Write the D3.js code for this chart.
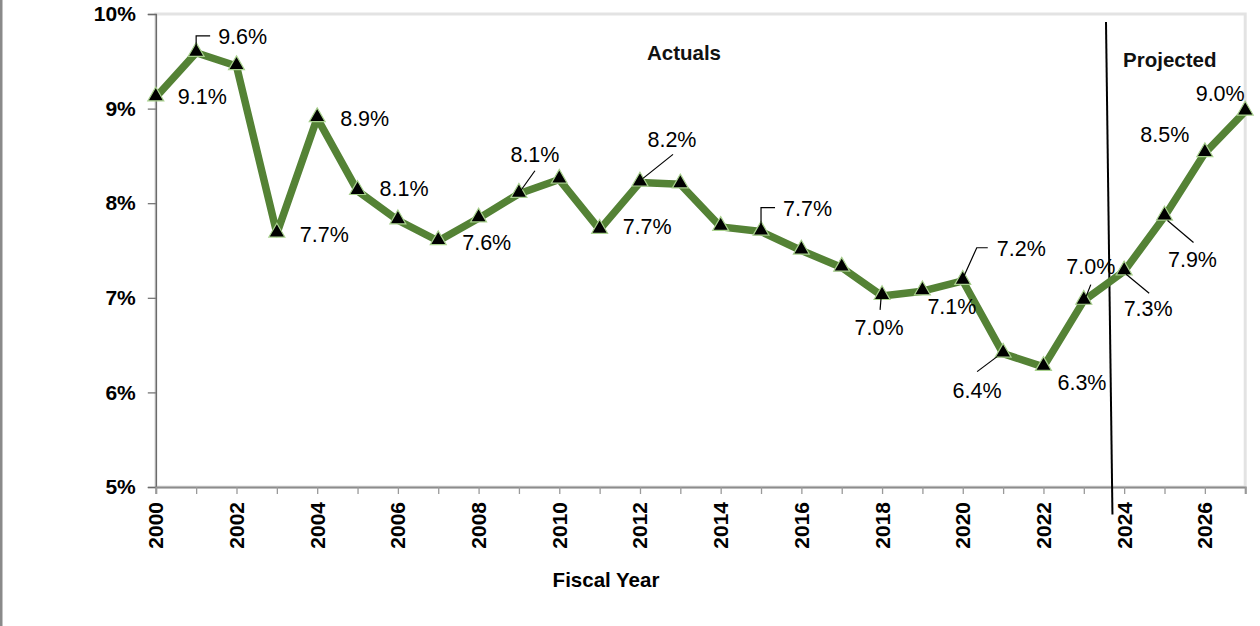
<!DOCTYPE html>
<html>
<head>
<meta charset="utf-8">
<script src="https://cdn.jsdelivr.net/npm/d3@7"></script>
<style>
  html, body { margin: 0; padding: 0; background: #fff; }
  svg { display: block; }
  text { font-family: "Liberation Sans", Arial, sans-serif; }
</style>
</head>
<body>
<svg id="chart" width="1260" height="626"></svg>
<script>
// Fiscal years and rate (%) per year
const years = d3.range(2000, 2028);
const rates = [9.12, 9.59, 9.45, 7.68, 8.9, 8.13, 7.82, 7.6, 7.84, 8.1,
               8.25, 7.72, 8.22, 8.2, 7.75, 7.7, 7.5, 7.32, 7.02, 7.07,
               7.18, 6.41, 6.27, 6.97, 7.28, 7.86, 8.53, 8.97];
const yTicks = [5, 6, 7, 8, 9, 10];
const xTickLabels = d3.range(2000, 2027, 2);
const labeledYears = [2000, 2001, 2003, 2004, 2005, 2007, 2009, 2011, 2012, 2015,
                      2018, 2019, 2020, 2021, 2022, 2023, 2024, 2025, 2026, 2027];
const sectionNames = ["Actuals", "Projected"];
const axisTitle = "Fiscal Year";

// Label placement: offset from the marker, anchor, optional leader line
const labelLayout = {
  2000: { dx: 22, dy: -1, anchor: "start" },
  2001: { dx: 22, dy: -16, anchor: "start", leader: [[0, -3], [0, -17], [14, -17]] },
  2003: { dx: 23, dy: 1, anchor: "start" },
  2004: { dx: 23, dy: 0, anchor: "start" },
  2005: { dx: 22, dy: -2, anchor: "start" },
  2007: { dx: 24, dy: 1, anchor: "start" },
  2009: { dx: 16, dy: -39, anchor: "middle", leader: [[1, -2], [16, -23]] },
  2011: { dx: 23, dy: -3, anchor: "start" },
  2012: { dx: 32, dy: -43, anchor: "middle", leader: [[3, -4], [33, -28]] },
  2015: { dx: 22, dy: -23, anchor: "start", leader: [[0, -2], [0, -24], [14, -24]] },
  2018: { dx: -3, dy: 32, anchor: "middle", leader: [[-1, 2], [-2, 14]] },
  2019: { dx: 5, dy: 15, anchor: "start" },
  2020: { dx: 34, dy: -32, anchor: "start", leader: [[0, -2], [14, -33], [25, -33]] },
  2021: { dx: -26, dy: 37, anchor: "middle", leader: [[-6, 3], [-26, 18]] },
  2022: { dx: 14, dy: 16, anchor: "start" },
  2023: { dx: 7, dy: -34, anchor: "middle", leader: [[1, -1], [7, -16]] },
  2024: { dx: 24, dy: 37, anchor: "middle", leader: [[2, 3], [25, 22]] },
  2025: { dx: 28, dy: 43, anchor: "middle", leader: [[3, 4], [29, 26]] },
  2026: { dx: -40, dy: -19, anchor: "middle" },
  2027: { dx: -25, dy: -18, anchor: "middle" }
};

const svg = d3.select("#chart");
const plot = { left: 155.8, right: 1245.2, top: 14, bottom: 487 };

const x = d3.scaleLinear().domain([2000, 2027]).range([plot.left, plot.right]);
const y = d3.scaleLinear().domain([5, 10]).range([plot.bottom, plot.top]);

// Thin frame on the left edge of the canvas
svg.append("rect").attr("x", 0).attr("y", 0).attr("width", 2.5).attr("height", 626)
  .attr("fill", "#8a8a8a");

// Plot area border
svg.append("rect")
  .attr("x", plot.left).attr("y", plot.top)
  .attr("width", plot.right - plot.left).attr("height", plot.bottom - plot.top)
  .attr("fill", "none").attr("stroke", "#e3e3e3").attr("stroke-width", 3);

// Y axis
const yAxis = svg.append("g").attr("transform", `translate(${plot.left},0)`)
  .call(d3.axisLeft(y).tickValues(yTicks).tickFormat(d => d + "%").tickSize(8).tickPadding(12));
yAxis.select(".domain").attr("stroke", "#6b6b6b").attr("stroke-width", 1.5);
yAxis.selectAll(".tick line").attr("stroke", "#6b6b6b").attr("stroke-width", 1.2);
yAxis.selectAll(".tick text").attr("font-size", 21).attr("font-weight", "bold")
  .attr("fill", "#000").attr("font-family", "'Liberation Sans', Arial, sans-serif");

// X axis: a tick every year, labels every other year
const xAxis = svg.append("g").attr("transform", `translate(0,${plot.bottom})`)
  .call(d3.axisBottom(x).tickValues(years).tickSize(7).tickFormat(""));
xAxis.select(".domain").attr("stroke", "#8c8c8c").attr("stroke-width", 2);
xAxis.selectAll(".tick line").attr("stroke", "#9a9a9a").attr("stroke-width", 1.3);

svg.append("g").selectAll("text").data(xTickLabels).join("text")
  .attr("transform", d => `translate(${x(d) + 7.5},${plot.bottom + 15}) rotate(-90)`)
  .attr("text-anchor", "end")
  .attr("font-size", 21).attr("font-weight", "bold").attr("fill", "#000")
  .text(d => d);

svg.append("text").attr("x", 606).attr("y", 587)
  .attr("text-anchor", "middle").attr("font-size", 20.5).attr("font-weight", "bold")
  .text(axisTitle);

// Actuals / projected divider
const divider = [{ year: 2023.55, value: 9.915 }, { year: 2023.71, value: 4.71 }];
svg.append("line")
  .attr("x1", x(divider[0].year)).attr("y1", y(divider[0].value))
  .attr("x2", x(divider[1].year)).attr("y2", y(divider[1].value))
  .attr("stroke", "#000").attr("stroke-width", 2);

const sectionPos = [{ year: 2013.09, value: 9.588 }, { year: 2025.13, value: 9.514 }];
svg.append("g").selectAll("text").data(sectionNames).join("text")
  .attr("x", (d, i) => x(sectionPos[i].year))
  .attr("y", (d, i) => y(sectionPos[i].value))
  .attr("dy", "0.35em")
  .attr("text-anchor", "middle")
  .attr("font-family", "'Open Sans', sans-serif")
  .attr("font-size", 20.5).attr("font-weight", "bold").attr("fill", "#111")
  .text(d => d);

// Series line
const pts = years.map((yr, i) => ({ year: yr, value: rates[i] }));
svg.append("path").datum(pts)
  .attr("fill", "none").attr("stroke", "#548235").attr("stroke-width", 7.5)
  .attr("stroke-linejoin", "round")
  .attr("d", d3.line().x(d => x(d.year)).y(d => y(d.value)));

// Triangle markers
const tri = d3.symbol().type(d3.symbolTriangle).size(110);
svg.append("g").selectAll("path").data(pts).join("path")
  .attr("transform", d => `translate(${x(d.year)},${y(d.value) - 1})`)
  .attr("d", tri)
  .attr("fill", "#000").attr("stroke", "#a9d18e").attr("stroke-width", 1.2);

// Data labels with leader lines
const fmt = d3.format(".1f");
const labeled = pts.filter(d => labeledYears.includes(d.year));
const lg = svg.append("g");
labeled.forEach(d => {
  const L = labelLayout[d.year];
  const px = x(d.year), py = y(d.value);
  if (L.leader) {
    lg.append("path")
      .attr("d", d3.line()(L.leader.map(p => [px + p[0], py + p[1]])))
      .attr("fill", "none").attr("stroke", "#000").attr("stroke-width", 1.2);
  }
  lg.append("text")
    .attr("x", px + L.dx).attr("y", py + L.dy).attr("dy", "0.35em")
    .attr("text-anchor", L.anchor)
    .attr("font-size", 21.5).attr("fill", "#000")
    .text(fmt(d.value) + "%");
});
</script>
</body>
</html>
